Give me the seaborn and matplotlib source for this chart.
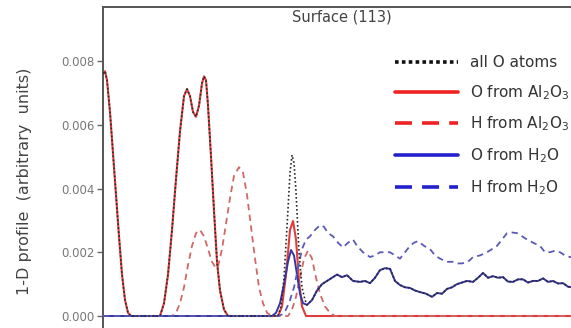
import matplotlib
matplotlib.use("Agg")
import matplotlib.pyplot as plt
from matplotlib.lines import Line2D
import seaborn as sns

# depth positions (arbitrary units) and 1-D profile values
x_o_al = [0, 0.2, 0.4, 0.7, 1.0, 1.3, 1.6, 1.9, 2.2, 2.5, 2.8, 5.7, 6.1, 6.5, 6.9, 7.3, 7.7, 8.1,
          8.4, 8.7, 9.0, 9.3, 9.6, 9.9, 10.1, 10.3, 10.5, 10.8, 11.1, 11.4, 11.7, 12.1, 12.5,
          17.5, 17.9, 18.3, 18.7, 19.0, 19.3, 19.6, 19.9, 20.3, 47.7]
o_al = [0.0076, 0.00768, 0.0074, 0.0064, 0.0051, 0.0038, 0.0025, 0.0013, 0.0005, 0.0001, 0, 0,
        0.0004, 0.0013, 0.0027, 0.0043, 0.0058, 0.0069, 0.00712, 0.0069, 0.0064, 0.00625, 0.0066,
        0.0073, 0.00752, 0.0074, 0.0066, 0.0050, 0.0033, 0.0017, 0.0008, 0.0002, 0,
        0, 0.0003, 0.0013, 0.0027, 0.00298, 0.0024, 0.0011, 0.0003, 0, 0]

x_h_al = [0, 6.9, 7.3, 7.7, 8.1, 8.5, 8.9, 9.3, 9.7, 10.1, 10.5, 10.9, 11.3, 11.5, 11.9, 12.3,
          12.7, 13.1, 13.6, 14.0, 14.4, 14.8, 15.2, 15.6, 16.0, 16.4, 16.9, 18.5, 18.9, 19.3,
          19.7, 20.1, 20.5, 20.9, 21.3, 21.7, 22.2, 22.7, 23.2, 47.7]
h_al = [0, 0, 0.0001, 0.0004, 0.0009, 0.0016, 0.0022, 0.0026, 0.0027, 0.0025, 0.0021, 0.0017,
        0.0015, 0.00155, 0.0021, 0.0029, 0.0037, 0.0044, 0.00467, 0.0045, 0.0038, 0.0028, 0.0018,
        0.0009, 0.0004, 0.0001, 0, 0, 0.0002, 0.0006, 0.0012, 0.0018, 0.00205, 0.0018, 0.0012,
        0.0007, 0.0003, 0.0001, 0, 0]

x_o_w = [0, 16.9, 17.3, 17.7, 18.1, 18.5, 18.8, 19.1, 19.4, 19.7, 20.0, 20.4, 20.9, 21.4, 21.9,
         22.4, 22.9, 23.4, 23.9, 24.4, 25.0, 25.7, 26.2, 26.7, 27.2, 27.7, 28.2, 28.7, 29.2, 29.7,
         30.2, 30.7, 31.2, 31.7, 32.3, 32.9, 33.4, 33.9, 34.4, 34.9, 35.4, 35.9, 36.4, 37.0, 37.5,
         38.0, 38.5, 39.0, 39.5, 40.0, 40.5, 41.0, 41.5, 42.0, 42.5, 43.0, 43.5, 44.0, 44.5, 45.0,
         45.5, 46.0, 46.5, 47.0, 47.7]
o_w = [0, 0, 0.0001, 0.0004, 0.0010, 0.0017, 0.00207, 0.0019, 0.0013, 0.0007, 0.0004, 0.00035,
       0.0005, 0.0008, 0.0010, 0.0011, 0.0012, 0.0013, 0.00122, 0.00128, 0.0011, 0.00107, 0.0011,
       0.00103, 0.0012, 0.00144, 0.0015, 0.00148, 0.0011, 0.00097, 0.0009, 0.00088, 0.0008,
       0.00075, 0.0007, 0.0006, 0.00072, 0.0007, 0.00085, 0.0009, 0.001, 0.00105, 0.0011,
       0.00107, 0.0012, 0.00135, 0.0012, 0.00125, 0.0012, 0.00122, 0.00108, 0.00107, 0.00115,
       0.00115, 0.00105, 0.0011, 0.0011, 0.00118, 0.00107, 0.0011, 0.00102, 0.00103, 0.00092,
       0.0009, 0.00088]

x_h_w = [0, 17.5, 17.9, 18.3, 18.7, 19.1, 19.5, 19.9, 20.3, 20.7, 21.2, 21.7, 22.1, 22.5, 23.0,
         23.5, 24.0, 24.5, 25.0, 25.4, 26.0, 26.7, 27.2, 27.7, 28.2, 28.7, 29.2, 29.7, 30.2, 30.7,
         31.1, 31.5, 32.1, 32.7, 33.2, 33.7, 34.4, 35.0, 35.5, 35.9, 36.5, 37.0, 37.7, 38.4, 38.9,
         39.4, 39.9, 40.4, 40.9, 41.4, 41.9, 42.4, 43.0, 43.7, 44.2, 44.7, 45.2, 45.7, 46.2, 46.7,
         47.7]
h_w = [0, 0, 0.00005, 0.0002, 0.0005, 0.0009, 0.0015, 0.0021, 0.0024, 0.0025, 0.0027, 0.00285,
       0.0028, 0.0026, 0.0025, 0.0023, 0.00215, 0.0023, 0.0024, 0.0022, 0.002, 0.00185, 0.0019,
       0.002, 0.002, 0.002, 0.0019, 0.0018, 0.0020, 0.0022, 0.0023, 0.00235, 0.0022, 0.0021,
       0.0019, 0.0018, 0.0017, 0.0017, 0.00165, 0.00165, 0.0017, 0.00185, 0.0019, 0.002, 0.0021,
       0.0022, 0.0024, 0.0026, 0.00262, 0.0026, 0.0025, 0.0024, 0.0023, 0.0022, 0.002, 0.002,
       0.00205, 0.002, 0.0019, 0.00185, 0.0018]

x_all_o = [0, 0.2, 0.4, 0.7, 1.0, 1.3, 1.6, 1.9, 2.2, 2.5, 2.8, 5.7, 6.1, 6.5, 6.9, 7.3, 7.7, 8.1,
           8.4, 8.7, 9.0, 9.3, 9.6, 9.9, 10.1, 10.3, 10.5, 10.8, 11.1, 11.4, 11.7, 12.1, 12.5,
           17.5, 17.8, 18.1, 18.4, 18.7, 18.9, 19.1, 19.3, 19.6, 19.9, 20.2, 20.4, 20.9, 21.4,
           21.9, 22.4, 22.9, 23.4, 23.9, 24.4, 25.0, 25.7, 26.2, 26.7, 27.2, 27.7, 28.2, 28.7,
           29.2, 29.7, 30.2, 30.7, 31.2, 31.7, 32.3, 32.9, 33.4, 33.9, 34.4, 34.9, 35.4, 35.9,
           36.4, 37.0, 37.5, 38.0, 38.5, 39.0, 39.5, 40.0, 40.5, 41.0, 41.5, 42.0, 42.5, 43.0,
           43.5, 44.0, 44.5, 45.0, 45.5, 46.0, 46.5, 47.0, 47.7]
all_o = [0.0076, 0.00768, 0.0074, 0.0064, 0.0051, 0.0038, 0.0025, 0.0013, 0.0005, 0.0001, 0, 0,
         0.0004, 0.0013, 0.0027, 0.0043, 0.0058, 0.0069, 0.00712, 0.0069, 0.0064, 0.00625, 0.0066,
         0.0073, 0.00752, 0.0074, 0.0066, 0.0050, 0.0033, 0.0017, 0.0008, 0.0002, 0,
         0, 0.0003, 0.0012, 0.0028, 0.0045, 0.00505, 0.0048, 0.0039, 0.0020, 0.0009, 0.0005,
         0.00035, 0.0005, 0.0008, 0.0010, 0.0011, 0.0012, 0.0013, 0.00122, 0.00128, 0.0011,
         0.00107, 0.0011, 0.00103, 0.0012, 0.00144, 0.0015, 0.00148, 0.0011, 0.00097, 0.0009,
         0.00088, 0.0008, 0.00075, 0.0007, 0.0006, 0.00072, 0.0007, 0.00085, 0.0009, 0.001,
         0.00105, 0.0011, 0.00107, 0.0012, 0.00135, 0.0012, 0.00125, 0.0012, 0.00122, 0.00108,
         0.00107, 0.00115, 0.00115, 0.00105, 0.0011, 0.0011, 0.00118, 0.00107, 0.0011, 0.00102,
         0.00103, 0.00092, 0.0009, 0.00088]

y_ticks = [0, 0.002, 0.004, 0.006, 0.008]
labels = ["all O atoms", r"O from Al$\mathregular{_2}$O$\mathregular{_3}$",
          r"H from Al$\mathregular{_2}$O$\mathregular{_3}$", r"O from H$\mathregular{_2}$O",
          r"H from H$\mathregular{_2}$O"]

sns.set_style("white")
plt.rcParams["font.family"] = ["DejaVu Sans"]

fig = plt.figure(figsize=(5.71, 3.28), dpi=100)
ax = fig.add_axes([0.1804, -0.0366, 0.8354, 1.0152])

sns.lineplot(x=x_o_al, y=o_al, ax=ax, color="#e03c3c", linewidth=1.5, estimator=None, zorder=2)
sns.lineplot(x=x_h_al, y=h_al, ax=ax, color="#d06868", linewidth=1.3, linestyle=(0, (3.5, 2.5)),
             estimator=None, zorder=2)
sns.lineplot(x=x_o_w, y=o_w, ax=ax, color="#3535a5", linewidth=1.4, estimator=None, zorder=3)
sns.lineplot(x=x_h_w, y=h_w, ax=ax, color="#5a5ab8", linewidth=1.3, linestyle=(0, (3.5, 2.5)),
             estimator=None, zorder=3)
sns.lineplot(x=x_all_o, y=all_o, ax=ax, color="#2a2a2a", linewidth=1.2, linestyle=(0, (1, 1.4)),
             estimator=None, zorder=4)

ax.set_xlim(0, 47.7)
ax.set_ylim(-0.000753, 0.009694)
ax.set_xticks([])
ax.set_yticks(y_ticks)
ax.set_yticklabels([f"{t:.3f}" for t in y_ticks])
ax.tick_params(axis="y", direction="out", length=4, width=1, color="#666666",
               labelsize=8.5, labelcolor="#777777", pad=2, left=True)
for s in ax.spines.values():
    s.set_color("#555555")
    s.set_linewidth(1.4)
ax.set_xlabel("")
ax.set_ylabel("")

ax.text(0.5, 0.97, "Surface (113)", transform=ax.transAxes, ha="center", va="center",
        fontsize=10.5, color="#444444")
fig.text(25 / 571, 1 - 181 / 328, "1-D profile  (arbitrary  units)", rotation=90,
         ha="center", va="center", fontsize=11.5, color="#444444")

handles = [
    Line2D([], [], color="#111111", linewidth=2.6, linestyle=(0, (1, 0.9))),
    Line2D([], [], color="#ee2222", linewidth=2.6),
    Line2D([], [], color="#ee2222", linewidth=2.6, linestyle=(0, (4.7, 2.8))),
    Line2D([], [], color="#2222cc", linewidth=2.6),
    Line2D([], [], color="#2222cc", linewidth=2.6, linestyle=(0, (4.7, 2.8))),
]
leg = ax.legend(handles, labels, loc="upper left", bbox_to_anchor=(395 / 571, 1 - 55 / 328),
                bbox_transform=fig.transFigure, frameon=False, fontsize=11,
                handlelength=4.1, handletextpad=0.8, labelspacing=0.85,
                borderpad=0, borderaxespad=0)
for t in leg.get_texts():
    t.set_color("#333333")

fig.savefig("out.png", dpi=100)
